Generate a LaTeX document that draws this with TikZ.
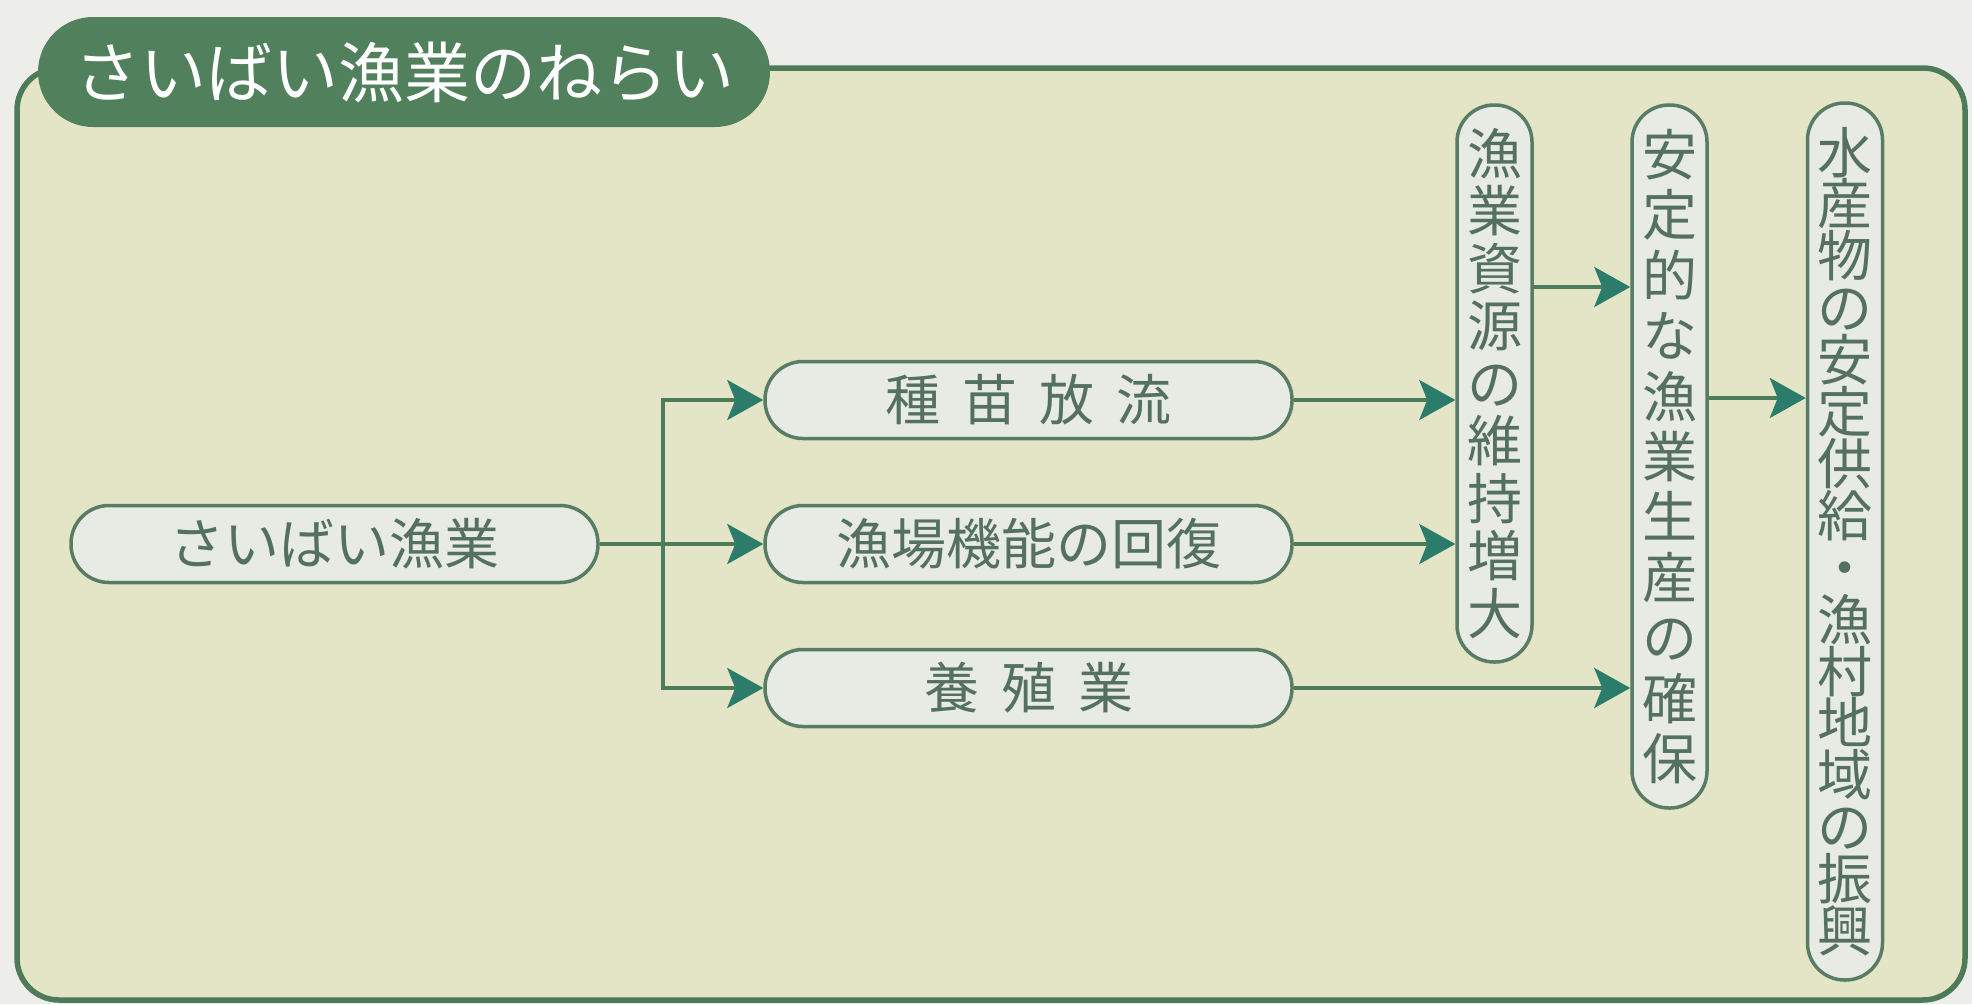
\documentclass[tikz,border=0pt]{standalone}
\usepackage{fontspec}
\newfontfamily\jp{Noto Sans CJK JP}
\usetikzlibrary{arrows.meta,calc}
\definecolor{bgc}{RGB}{237,237,234}
\definecolor{panelc}{RGB}{228,229,198}
\definecolor{framec}{RGB}{78,122,90}
\definecolor{titlec}{RGB}{80,128,92}
\definecolor{linec}{RGB}{76,124,92}
\definecolor{arrowc}{RGB}{44,124,108}
\definecolor{boxfillc}{RGB}{232,234,228}
\definecolor{boxdrawc}{RGB}{88,124,100}
\definecolor{textc}{RGB}{84,112,96}
\begin{document}
\begin{tikzpicture}[x=1pt,y=-1pt,
  hbox/.style={draw=boxdrawc, line width=3.5pt, fill=boxfillc, rounded corners=38pt,
    minimum width=527pt, minimum height=77pt, inner sep=0pt, text=textc,
    font={\jp\fontsize{55}{60}\selectfont}},
  vbox/.style={draw=boxdrawc, line width=3.5pt, fill=boxfillc, rounded corners=37pt,
    minimum width=75pt, inner sep=0pt, text=textc, align=center},
  conn/.style={draw=linec, line width=3.5pt},
  arr/.style={conn, -{Stealth[length=36pt,width=40pt,inset=8pt,color=arrowc]}}]
\fill[bgc] (0,0) rectangle (1972,1004);
\useasboundingbox (0,0) rectangle (1972,1004);
% frame
\draw[framec, line width=5.5pt, fill=panelc, rounded corners=42pt] (17,68) rectangle (1965,1000);
% title
\node[fill=titlec, rounded corners=55pt, minimum width=732pt, minimum height=110pt,
  inner sep=0pt, text=white, font={\jp\fontsize{66}{70}\selectfont}] (title) at (404,72) {さいばい漁業のねらい};
% horizontal boxes
\node[hbox] (src) at (334.5,544) {さいばい漁業};
\node[hbox] (seed) at (1028.5,400) {種\hspace{22pt}苗\hspace{22pt}放\hspace{22pt}流};
\node[hbox] (ground) at (1028.5,544) {漁場機能の回復};
\node[hbox] (aqua) at (1028.5,688) {養\hspace{22pt}殖\hspace{22pt}業};
% vertical boxes
\node[vbox, minimum height=557pt, font={\jp\fontsize{55}{57.5}\selectfont\setlength\lineskiplimit{-100pt}}] (res) at (1494.5,383.5)
  {漁\\業\\資\\源\\の\\維\\持\\増\\大};
\node[vbox, minimum height=703pt, font={\jp\fontsize{55}{60.4}\selectfont\setlength\lineskiplimit{-100pt}}] (prod) at (1669.5,456.5)
  {安\\定\\的\\な\\漁\\業\\生\\産\\の\\確\\保};
\node[vbox, minimum height=877pt, font={\jp\fontsize{55}{51.9}\selectfont\setlength\lineskiplimit{-100pt}}] (supply) at (1845,541.5)
  {水\\産\\物\\の\\安\\定\\供\\給\\・\\漁\\村\\地\\域\\の\\振\\興};
% connectors
\coordinate (br1) at (663,400);
\coordinate (br3) at (663,688);
\coordinate (ya) at (0,287);
\coordinate (yb) at (0,398);
\draw[arr] (src.east) -- (ground.west);
\draw[conn, line cap=rect] (br1) -- (br3);
\draw[arr] (br1) -- (seed.west);
\draw[arr] (br3) -- (aqua.west);
\draw[arr] (seed.east) -- (seed.east -| res.west);
\draw[arr] (ground.east) -- (ground.east -| res.west);
\draw[arr] (aqua.east) -- (aqua.east -| prod.west);
\draw[arr] (res.east |- ya) -- (prod.west |- ya);
\draw[arr] (prod.east |- yb) -- (supply.west |- yb);
\end{tikzpicture}
\end{document}
